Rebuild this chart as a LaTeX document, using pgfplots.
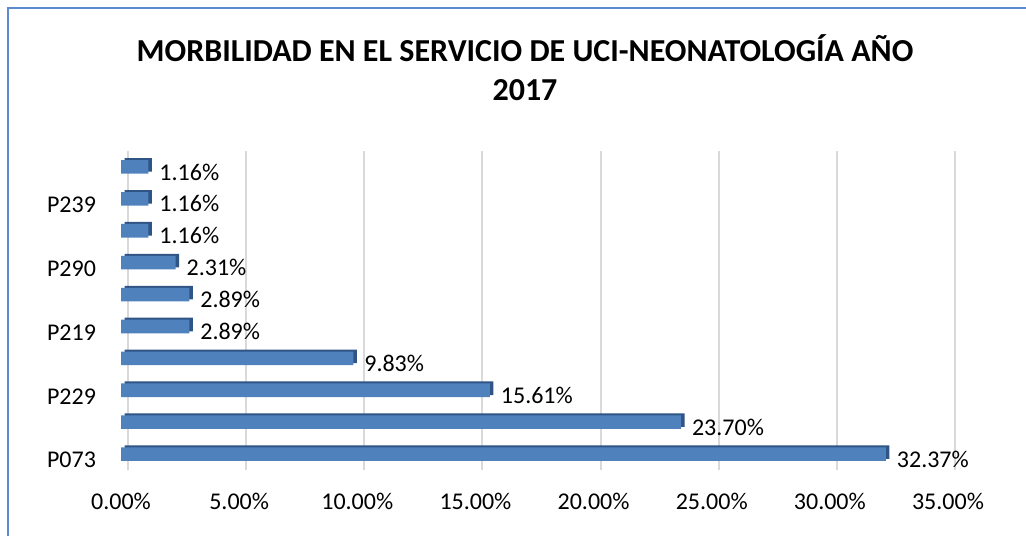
\documentclass[border=0pt]{standalone}
\usepackage{pgfplots}
\pgfplotsset{compat=1.18}
\usepackage{fontspec}
\setmainfont{Carlito}
\definecolor{barfront}{HTML}{4F81BD}
\definecolor{barside}{HTML}{2F5586}
\definecolor{gridc}{HTML}{D9D9D9}
\definecolor{framec}{HTML}{5B8BCF}
\pgfplotstableread{
idx val
0 32.37
1 23.70
2 15.61
3 9.83
4 2.89
5 2.89
6 2.31
7 1.16
8 1.16
9 1.16
}\datatab
\begin{document}
\begin{tikzpicture}[x=1pt,y=1pt]
\path[use as bounding box] (0,0) rectangle (513,268);
\draw[framec, line width=1pt] (4,0) -- (4,264) -- (513,264);
\node[font=\fontsize{16}{19}\selectfont\bfseries] at (262.5,244) {MORBILIDAD EN EL SERVICIO DE UCI-NEONATOLOGÍA AÑO};
\node[font=\fontsize{16}{19}\selectfont\bfseries] at (262.5,223) {2017};
\begin{axis}[
  at={(60.5pt,33pt)}, anchor=south west,
  scale only axis, width=413.5pt, height=159.5pt,
  xmin=0, xmax=35, ymin=-0.5, ymax=9.5,
  xbar, bar width=6.8pt,
  axis line style={draw=none},
  major tick length=0pt,
  xtick={0,5,...,35},
  xticklabel={\pgfmathprintnumber[fixed,fixed zerofill,precision=2]{\tick}\%},
  ytick={0,2,4,6,8},
  yticklabels={P073,P229,P219,P290,P239},
  /pgf/number format/assume math mode=true,
  tick label style={font=\fontsize{12}{14}\selectfont},
  yticklabel style={xshift=-9pt, yshift=-3pt},
  xticklabel style={yshift=-8pt},
  xmajorgrids, major grid style={gridc, line width=1pt, xshift=3.5pt},
  clip=false,
]
\addplot[draw=none, fill=barside, bar shift=0pt, xshift=1.75pt, yshift=1pt] table[x=val,y=idx]{\datatab};
\addplot[draw=none, fill=barfront, bar shift=0pt,
  nodes near coords={\pgfmathprintnumber[fixed,fixed zerofill,precision=2]{\pgfplotspointmeta}\%},
  nodes near coords align={horizontal},
  every node near coord/.append style={anchor=west, xshift=2pt, yshift=-2.5pt, font=\fontsize{12}{14}\selectfont, text=black}
] table[x=val,y=idx]{\datatab};
\end{axis}
\end{tikzpicture}
\end{document}
